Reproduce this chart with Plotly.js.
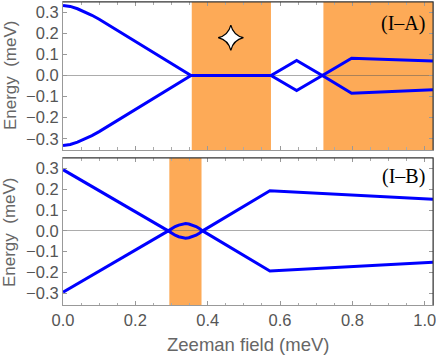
<!DOCTYPE html>
<html><head><meta charset="utf-8">
<script src="https://cdn.plot.ly/plotly-3.0.1.min.js"></script>
<style>html,body{margin:0;padding:0;background:#fff}</style>
</head><body><div id="plot" style="width:436px;height:356px"></div>
<script>
// ---- data ----
const topX      = [0, 0.02, 0.04, 0.06, 0.08, 0.1, 0.354, 0.575, 0.646, 0.717, 0.798, 1.023];
const topUpperY = [0.332, 0.327, 0.316, 0.302, 0.285, 0.266, 0, 0, 0.071, 0, 0.082, 0.069];
const topLowerY = [-0.332, -0.327, -0.316, -0.302, -0.285, -0.266, 0, 0, -0.071, 0, -0.084, -0.068];

const botX      = [0, 0.291, null, 0.386, 0.572, 1.023];
const botUpperY = [0.295, 0, null, 0, 0.193, 0.152];
const botLowerY = [-0.295, 0, null, 0, -0.193, -0.151];

const lensX      = [0.291, 0.3, 0.31, 0.32, 0.33, 0.339, 0.348, 0.358, 0.368, 0.377, 0.386];
const lensUpperY = [0, 0.011, 0.021, 0.028, 0.033, 0.035, 0.033, 0.028, 0.021, 0.011, 0];
const lensLowerY = [0, -0.011, -0.021, -0.028, -0.033, -0.035, -0.033, -0.028, -0.021, -0.011, 0];

const topBands = [[0.356, 0.575], [0.72, 1.03]];
const botBands = [[0.294, 0.383]];

const starX = [0.464];
const starY = [0.179];

const xTickVals = [0, 0.2, 0.4, 0.6, 0.8, 1.0];
const xTickText = ["0.0", "0.2", "0.4", "0.6", "0.8", "1.0"];
const yTickVals = [-0.3, -0.2, -0.1, 0, 0.1, 0.2, 0.3];
const yTickText = ["\u22120.3", "\u22120.2", "\u22120.1", "0.0", "0.1", "0.2", "0.3"];

const panelLabels = ["(I\u2013A)", "(I\u2013B)"];
const yTitle = "Energy\u00a0\u00a0(meV)";
const xTitle = "Zeeman field (meV)";

// ---- styling ----
const blue = "#0000ff";
const orange = "#fdaa57";
const sans = "Liberation Sans, Arial, sans-serif";
const lineStyle = {color: blue, width: 3};

const traces = [
  {x: topX, y: topUpperY, xaxis: "x", yaxis: "y", mode: "lines", line: lineStyle, hoverinfo: "skip"},
  {x: topX, y: topLowerY, xaxis: "x", yaxis: "y", mode: "lines", line: lineStyle, hoverinfo: "skip"},
  {x: botX, y: botUpperY, xaxis: "x2", yaxis: "y2", mode: "lines", line: lineStyle, connectgaps: false, hoverinfo: "skip"},
  {x: botX, y: botLowerY, xaxis: "x2", yaxis: "y2", mode: "lines", line: lineStyle, connectgaps: false, hoverinfo: "skip"},
  {x: lensX, y: lensUpperY, xaxis: "x2", yaxis: "y2", mode: "lines", line: lineStyle, hoverinfo: "skip"},
  {x: lensX, y: lensLowerY, xaxis: "x2", yaxis: "y2", mode: "lines", line: lineStyle, hoverinfo: "skip"},
  {x: starX, y: starY, xaxis: "x", yaxis: "y", mode: "markers",
   marker: {symbol: "star-diamond", size: 18, color: "#ffffff", line: {color: "#000000", width: 1.2}}, hoverinfo: "skip"}
];

const shapes = [];
topBands.forEach(b => shapes.push({type: "rect", xref: "x", yref: "y domain", x0: b[0], x1: b[1], y0: 0, y1: 1,
  fillcolor: orange, line: {width: 0}, layer: "below"}));
botBands.forEach(b => shapes.push({type: "rect", xref: "x2", yref: "y2 domain", x0: b[0], x1: b[1], y0: 0, y1: 1,
  fillcolor: orange, line: {width: 0}, layer: "below"}));
// darker top / right frame edges
[["x", "y"], ["x2", "y2"]].forEach(([xa, ya]) => {
  shapes.push({type: "line", xref: xa + " domain", yref: ya + " domain", x0: 0, x1: 1, y0: 1, y1: 1, line: {color: "#333", width: 1}, layer: "above"});
  shapes.push({type: "line", xref: xa + " domain", yref: ya + " domain", x0: 1, x1: 1, y0: 0, y1: 1, line: {color: "#333", width: 1}, layer: "above"});
});

const tickFont = {family: sans, size: 16.5, color: "#555"};
function xAxis(extra) {
  return Object.assign({
    range: [0, 1.023], tickvals: xTickVals, ticktext: xTickText, ticks: "inside", ticklen: 4, tickcolor: "#999",
    minor: {dtick: 0.05, ticks: "inside", ticklen: 2.5, tickcolor: "#aaa", showgrid: false},
    showgrid: false, zeroline: false, showline: true, linecolor: "#999", linewidth: 1, mirror: "ticks",
    tickfont: tickFont, ticklabeloverflow: "allow", fixedrange: true
  }, extra);
}
function yAxis(extra) {
  return Object.assign({
    tickvals: yTickVals, ticktext: yTickText, ticks: "inside", ticklen: 4, tickcolor: "#999",
    showgrid: false, zeroline: true, zerolinecolor: "rgba(90,90,90,0.5)", zerolinewidth: 1,
    showline: true, linecolor: "#999", linewidth: 1, mirror: "ticks",
    tickfont: tickFont, ticklabeloverflow: "allow", fixedrange: true
  }, extra);
}

const layout = {
  width: 436, height: 356,
  margin: {l: 63, r: 3, t: 2, b: 51},
  paper_bgcolor: "#fff", plot_bgcolor: "rgba(0,0,0,0)",
  showlegend: false,
  xaxis: xAxis({anchor: "y", showticklabels: false}),
  yaxis: yAxis({anchor: "x", domain: [0.5116, 1], range: [-0.353, 0.348]}),
  xaxis2: xAxis({anchor: "y2", matches: "x"}),
  yaxis2: yAxis({anchor: "x2", domain: [0, 0.4851], range: [-0.357, 0.351]}),
  shapes: shapes,
  annotations: [
    {text: panelLabels[0], xref: "x domain", yref: "y domain", x: 0.985, y: 0.858, xanchor: "right", yanchor: "middle",
     showarrow: false, font: {family: "Liberation Serif, Times New Roman, serif", size: 20, color: "#000"}},
    {text: panelLabels[1], xref: "x2 domain", yref: "y2 domain", x: 0.985, y: 0.871, xanchor: "right", yanchor: "middle",
     showarrow: false, font: {family: "Liberation Serif, Times New Roman, serif", size: 20, color: "#000"}},
    {text: yTitle, xref: "paper", yref: "paper", x: -0.143, y: 0.759, xanchor: "center", yanchor: "middle", textangle: -90,
     showarrow: false, font: {family: sans, size: 17, color: "#666"}},
    {text: yTitle, xref: "paper", yref: "paper", x: -0.143, y: 0.241, xanchor: "center", yanchor: "middle", textangle: -90,
     showarrow: false, font: {family: sans, size: 17, color: "#666"}},
    {text: xTitle, xref: "paper", yref: "paper", x: 0.5, y: -0.132, xanchor: "center", yanchor: "middle",
     showarrow: false, font: {family: sans, size: 18.5, color: "#666"}}
  ]
};

Plotly.newPlot("plot", traces, layout, {staticPlot: true, displayModeBar: false});
</script>
</body></html>
